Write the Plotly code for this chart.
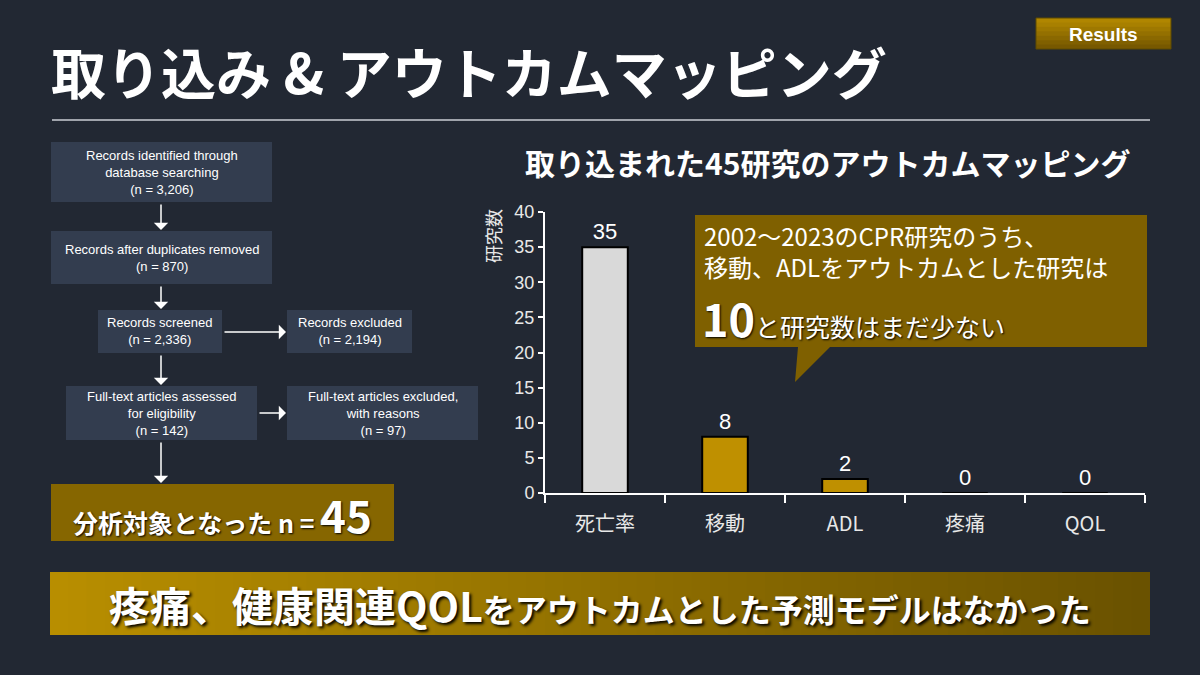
import plotly.graph_objects as go

# -------------------- data -------------------- #
categories = ["死亡率", "移動", "ADL", "疼痛", "QOL"]
study_counts = [35, 8, 2, 0, 0]
bar_colors = ["#D9D9D9", "#BF9000", "#BF9000", "#BF9000", "#BF9000"]
y_ticks = [0, 5, 10, 15, 20, 25, 30, 35, 40]

# PRISMA flow boxes: (lines, left, top, right, bottom) in slide pixels
flow_boxes = [
    (["Records identified through", "database searching", "(n = 3,206)"], 51, 142, 272, 202),
    (["Records after duplicates removed", "(n = 870)"], 51, 231, 272, 284),
    (["Records screened", "(n = 2,336)"], 98, 310, 222, 353),
    (["Records excluded", "(n = 2,194)"], 287, 310, 412, 353),
    (["Full-text articles assessed", "for eligibility", "(n = 142)"], 66, 386, 257, 440),
    (["Full-text articles excluded,", "with reasons", "(n = 97)"], 287, 386, 478, 440),
]
# arrows: (tail x, tail y, head x, head y)
flow_arrows = [
    (161, 203, 161, 230),
    (161, 285, 161, 309),
    (223, 332, 286, 332),
    (161, 354, 161, 385),
    (258, 413, 286, 413),
    (161, 441, 161, 483),
]

W, H = 1200, 675
BG = "#222833"
BOX = "#333D4F"
JP = "Noto Sans CJK JP"
LAT = "Liberation Sans, Arial"


def px(x):
    return x / W


def py(y):
    return 1 - y / H


def label(x, y, text, size, family=JP, color="#FFFFFF", xanchor="center", **kw):
    return dict(xref="paper", yref="paper", x=px(x), y=py(y), text=text, showarrow=False,
                xanchor=xanchor, yanchor="middle",
                font=dict(family=family, size=size, color=color, **kw.pop("font_extra", {})), **kw)


fig = go.Figure()

fig.add_trace(go.Bar(
    x=categories, y=study_counts,
    marker=dict(color=bar_colors, line=dict(color="#000000", width=2)),
    width=0.38,
    text=[str(v) for v in study_counts], textposition="outside",
    textfont=dict(family=LAT, size=22, color="#FFFFFF"),
    cliponaxis=False, showlegend=False, hoverinfo="skip",
))

shapes = []
annotations = []

# title rule
shapes.append(dict(type="line", xref="paper", yref="paper",
                   x0=px(52), x1=px(1150), y0=py(120), y1=py(120),
                   line=dict(color="#A0A4AC", width=2)))

# Results badge (vertical gradient via strips)
badge_cols = ["#B08600", "#A88000", "#9E7800", "#947000", "#8A6800", "#806000", "#775800"]
bx0, bx1, by0, by1 = 1036, 1171, 18, 49
n = len(badge_cols)
for i, c in enumerate(badge_cols):
    shapes.append(dict(type="rect", xref="paper", yref="paper", layer="below",
                       x0=px(bx0), x1=px(bx1),
                       y0=py(by0 + (by1 - by0) * i / n), y1=py(min(by1, by0 + (by1 - by0) * (i + 1) / n + 1)),
                       fillcolor=c, line=dict(width=0)))
shapes.append(dict(type="rect", xref="paper", yref="paper", layer="below",
                   x0=px(bx0), x1=px(bx1), y0=py(by0), y1=py(by1),
                   fillcolor="rgba(0,0,0,0)", line=dict(color="#5E4A00", width=1)))
annotations.append(label((bx0 + bx1) / 2, 34, "<b>Results</b>", 19, family=LAT))

# flow chart boxes
for lines, x0, y0, x1, y1 in flow_boxes:
    shapes.append(dict(type="rect", xref="paper", yref="paper", layer="below",
                       x0=px(x0), x1=px(x1), y0=py(y0), y1=py(y1),
                       fillcolor=BOX, line=dict(width=0)))
    annotations.append(label((x0 + x1) / 2, (y0 + y1) / 2, "<br>".join(lines), 13, family=LAT,
                             align="center"))

for tx, ty, hx, hy in flow_arrows:
    annotations.append(dict(xref="paper", yref="paper", x=px(hx), y=py(hy),
                            ax=tx - hx, ay=ty - hy, text="", showarrow=True,
                            arrowhead=1, arrowsize=1.6, arrowwidth=1.5, arrowcolor="#FFFFFF",
                            standoff=0, startstandoff=0))

# result box
shapes.append(dict(type="rect", xref="paper", yref="paper", layer="below",
                   x0=px(51), x1=px(394), y0=py(484), y1=py(541),
                   fillcolor="#866600", line=dict(width=0)))
annotations.append(label(222, 514,
                         "<b>分析対象となった n = <span style='font-size:44px'>45</span></b>", 25,
                         font_extra=dict(shadow="1px 1px 2px #000000")))

# callout with pointer
cx0, cx1, cy0, cy1 = 695, 1147, 215, 347
path = (f"M {px(cx0)} {py(cy0)} L {px(cx1)} {py(cy0)} L {px(cx1)} {py(cy1)} "
        f"L {px(830)} {py(cy1)} L {px(795)} {py(382)} L {px(798)} {py(cy1)} "
        f"L {px(cx0)} {py(cy1)} Z")
shapes.append(dict(type="path", xref="paper", yref="paper", path=path,
                   fillcolor="#7F6000", line=dict(width=0), layer="above"))
annotations.append(label(702, 251, "2002～2023のCPR研究のうち、<br>移動、ADLをアウトカムとした研究は",
                         24, xanchor="left", align="left"))
annotations.append(label(700, 318,
                         "<b><span style='font-size:45px'>10</span></b>と研究数はまだ少ない", 25,
                         xanchor="left", font_extra=dict(shadow="1px 1px 2px #000000")))

# bottom banner (horizontal gradient via strips)
gx0, gx1, gy0, gy1 = 50, 1150, 572, 635
steps = 60
c0 = (0xB8, 0x8E, 0x00)
c1 = (0x6A, 0x52, 0x00)
for i in range(steps):
    t = i / (steps - 1)
    col = "rgb({},{},{})".format(*[round(a + (b - a) * t) for a, b in zip(c0, c1)])
    shapes.append(dict(type="rect", xref="paper", yref="paper", layer="below",
                       x0=px(gx0 + (gx1 - gx0) * i / steps),
                       x1=px(min(gx1, gx0 + (gx1 - gx0) * (i + 1) / steps + 2)),
                       y0=py(gy0), y1=py(gy1), fillcolor=col, line=dict(width=0)))
annotations.append(label(600, 604,
                         "<b><span style='font-size:41px'>疼痛、健康関連QOL</span>をアウトカムとした予測モデルはなかった</b>",
                         32, font_extra=dict(shadow="2px 2px 3px #000000")))

# slide title
annotations.append(label(49, 70, "<b>取り込み & アウトカムマッピング</b>", 55, xanchor="left"))

# chart title
annotations.append(label(828, 162, "<b>取り込まれた45研究のアウトカムマッピング</b>", 30))

# y-axis title
annotations.append(label(493, 236, "研究数", 18, color="#E8E8E8", textangle=-90))

fig.update_layout(
    width=W, height=H,
    margin=dict(l=0, r=0, t=0, b=0, pad=0, autoexpand=False),
    paper_bgcolor=BG, plot_bgcolor=BG,
    shapes=shapes, annotations=annotations,
    bargap=0.6,
    xaxis=dict(domain=[px(545), px(1145)], showgrid=False, zeroline=False, automargin=False,
               showline=True, linecolor="#FFFFFF", linewidth=2,
               ticks="outside", tickson="boundaries", ticklen=8, tickcolor="#FFFFFF", tickwidth=2,
               ticklabelstandoff=12,
               tickfont=dict(family=JP, size=20, color="#E8E8E8"), fixedrange=True),
    yaxis=dict(domain=[py(493), py(212)], range=[0, 40], tickvals=y_ticks,
               showgrid=False, zeroline=False, automargin=False,
               showline=True, linecolor="#FFFFFF", linewidth=2,
               ticks="outside", ticklen=5, tickcolor="#FFFFFF", tickwidth=1.5,
               tickfont=dict(family=LAT, size=18, color="#E8E8E8"), fixedrange=True),
)

pin_page = (
    "document.documentElement.style.overflow='hidden';"
    "document.body.style.margin='0';document.body.style.overflow='hidden';"
    "document.body.style.background='#222833';"
    "var d=document.getElementById('{plot_id}');"
    "d.style.position='fixed';d.style.top='0';d.style.left='0';"
)
fig.write_html("out.html", config={"displayModeBar": False}, post_script=pin_page)
